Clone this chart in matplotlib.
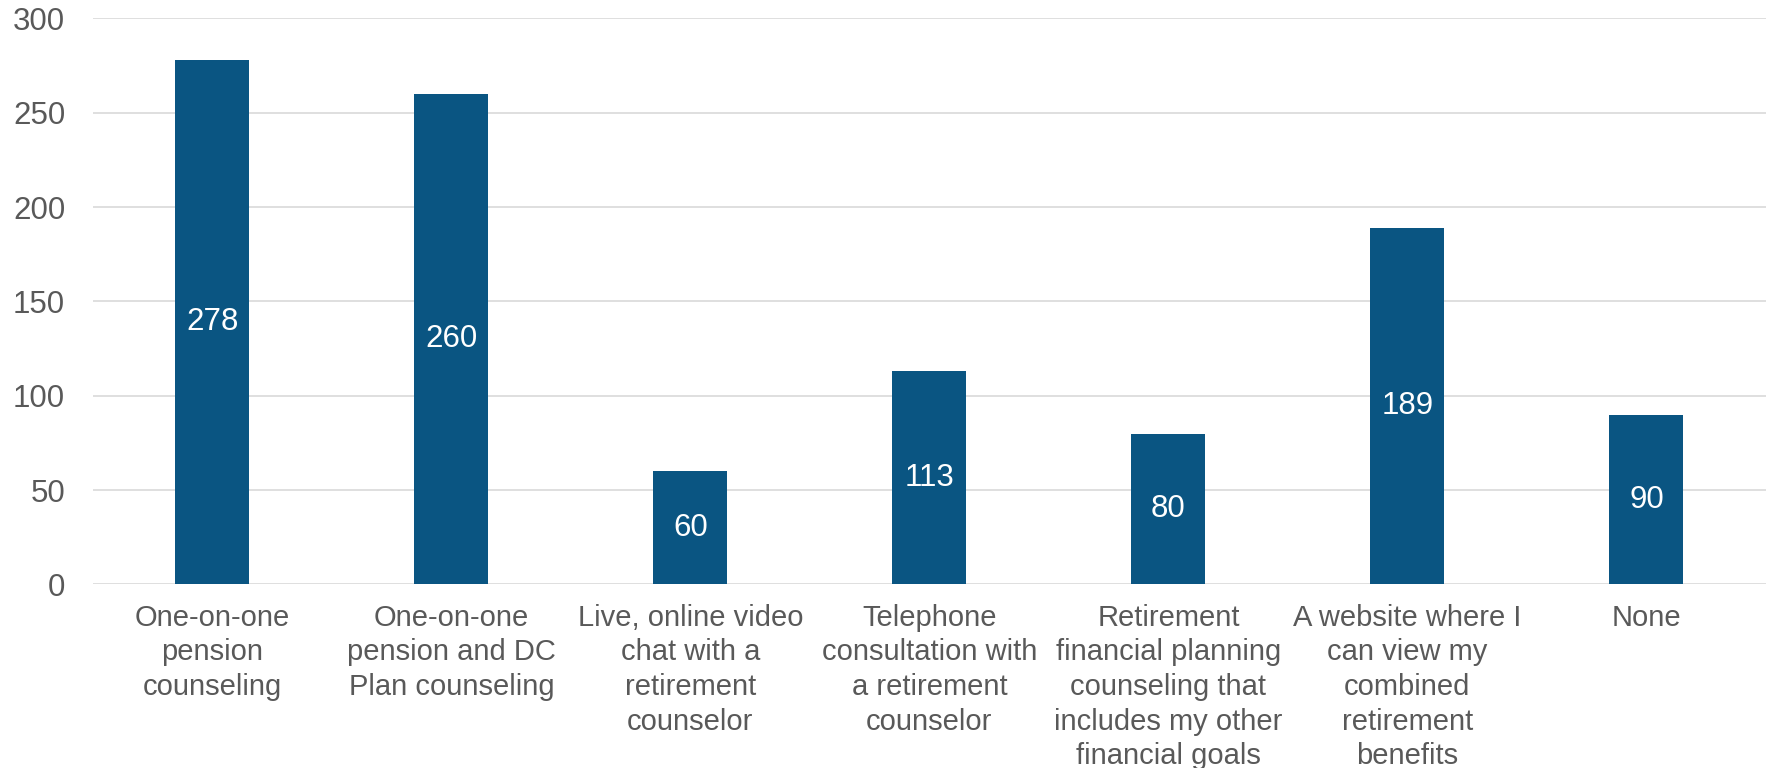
import matplotlib
matplotlib.use("Agg")
import matplotlib.pyplot as plt

categories = [
    "One-on-one\npension\ncounseling",
    "One-on-one\npension and DC\nPlan counseling",
    "Live, online video\nchat with a\nretirement\ncounselor",
    "Telephone\nconsultation with\na retirement\ncounselor",
    "Retirement\nfinancial planning\ncounseling that\nincludes my other\nfinancial goals",
    "A website where I\ncan view my\ncombined\nretirement\nbenefits",
    "None",
]
values = [278, 260, 60, 113, 80, 189, 90]
y_ticks = [0, 50, 100, 150, 200, 250, 300]

BAR_COLOR = "#0A5582"
TEXT_COLOR = "#595959"
GRID_COLOR = "#D9D9D9"

plt.rcParams["font.family"] = ["Liberation Sans", "DejaVu Sans"]

fig = plt.figure(figsize=(17.7, 7.68), dpi=100)
ax = fig.add_axes([0.0525, 0.239, 0.9452, 0.737])

x = list(range(len(categories)))
bars = ax.bar(x, values, width=0.31, color=BAR_COLOR, zorder=3)

for rect, v in zip(bars, values):
    ax.text(rect.get_x() + rect.get_width() / 2, v / 2, str(v),
            ha="center", va="center", color="white", fontsize=22.5, zorder=4)

ax.set_xlim(-0.5, len(categories) - 0.5)
ax.set_ylim(0, 300)
ax.set_yticks(y_ticks)
ax.set_yticklabels([str(t) for t in y_ticks])
ax.set_xticks(x)
ax.set_xticklabels(categories, linespacing=1.3)

ax.yaxis.grid(True, color=GRID_COLOR, linewidth=1.2, zorder=0)
ax.set_axisbelow(True)
for s in ax.spines.values():
    s.set_visible(False)

ax.tick_params(axis="y", length=0, pad=20, labelsize=22.5, labelcolor=TEXT_COLOR)
ax.tick_params(axis="x", length=0, pad=14, labelsize=21, labelcolor=TEXT_COLOR)

fig.savefig("out.png", dpi=100, facecolor="white")
